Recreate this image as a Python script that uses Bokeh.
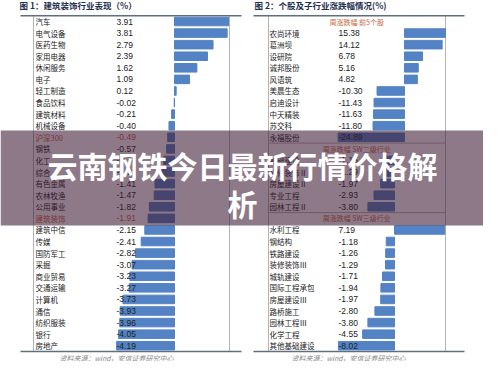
from bokeh.plotting import figure
from bokeh.models import Range1d, ColumnDataSource
from bokeh.core.properties import value
from bokeh.embed import file_html
from bokeh.resources import INLINE

# ---------------- data ----------------
left_title = "图 1：建筑装饰行业表现（%）"
left_names = ["汽车", "电气设备", "医药生物", "家用电器", "休闲服务", "电子", "轻工制造",
              "食品饮料", "建筑材料", "机械设备", "沪深300", "钢铁", "化工", "综合",
              "有色金属", "农林牧渔", "公用事业", "建筑装饰", "建筑中信", "传媒", "国防军工",
              "采掘", "商业贸易", "交通运输", "计算机", "通信", "纺织服装", "银行", "房地产"]
left_values = [3.91, 3.81, 2.79, 2.39, 1.62, 1.09, 0.12, -0.02, -0.21, -0.40, -0.49, -0.57,
               -0.78, -1.02, -1.41, -1.47, -1.82, -1.91, -2.15, -2.41, -2.82, -3.07, -3.23,
               -3.27, -3.73, -3.93, -3.96, -4.05, -4.19]
left_highlight = ["沪深300", "建筑装饰"]

right_title = "图 2：个股及子行业涨跌幅情况(%)"
stock_header = "周涨跌幅  前5个股"
stock_names = ["农尚环境", "葛洲坝", "设研院", "诚邦股份", "风语筑",
               "美晨生态", "启迪设计", "中天精装", "苏交科", "永福股份"]
stock_values = [15.38, 14.12, 6.78, 5.16, 4.82, -10.30, -11.43, -11.63, -11.80, -24.89]
sw2_header = "周涨跌幅  SW二级行业"
sw2_names = ["基础建设", "装修装饰Ⅱ", "房屋建设Ⅱ", "专业工程", "园林工程Ⅱ"]
sw2_values = [-1.15, -1.29, -1.97, -2.93, -3.80]
sw3_header = "周涨跌幅  SW三级行业"
sw3_names = ["水利工程", "钢结构", "铁路建设", "装修装饰Ⅲ", "城轨建设", "国际工程承包",
             "房屋建设Ⅲ", "路桥施工", "园林工程Ⅲ", "化学工程", "其他基础建设"]
sw3_values = [7.19, -1.18, -1.26, -1.29, -1.71, -1.94, -1.97, -2.80, -3.80, -4.55, -8.02]
source_note = "资料来源：wind，安信证券研究中心"
banner_lines = ["云南钢铁今日最新行情价格解", "析"]

# ---------------- layout ----------------
W, H = 483, 361
OFF = 8
ROW0 = 29 - OFF
ROW_H = 11.58
BLUE = "#5383c4"
RED = "#d0603f"
DARK = "#222222"
FONT = value("Noto Sans CJK SC")
NUMF = value("Liberation Sans")


def xr(zero_ref_x, ppu):
    z = zero_ref_x - OFF
    return Range1d(-z / ppu, (W - z) / ppu)


p = figure(width=W, height=H, output_backend="svg", toolbar_location=None,
           x_axis_location=None, y_axis_location=None, min_border=0,
           outline_line_color=None, background_fill_color="white",
           border_fill_color="white",
           x_range=xr(182, 13.82),
           y_range=Range1d((H - ROW0) / ROW_H, -ROW0 / ROW_H))
p.extra_x_ranges = {"stk": xr(412, 2.666), "sw": xr(402, 7.0), "px": Range1d(0, W)}
p.extra_y_ranges = {"py": Range1d(H, 0)}
p.grid.visible = False

# ---------------- frame lines ----------------
vx = [41 - OFF, 237 - OFF, 276 - OFF, 453 - OFF]
p.segment(x0=vx, x1=vx, y0=[-0.5] * 4, y1=[28.5] * 4, x_range_name="px",
          line_color="#b4b4b4", line_width=1)
p.segment(x0=[276 - OFF] * 2, x1=[453 - OFF] * 2, y0=[10.5, 16.5], y1=[10.5, 16.5],
          x_range_name="px", line_color="#b4b4b4", line_width=1)
hx0 = [28 - OFF, 28 - OFF, 261 - OFF, 261 - OFF]
hx1 = [249 - OFF, 249 - OFF, 472 - OFF, 472 - OFF]
p.segment(x0=hx0, x1=hx1, y0=[-0.5, 28.5, -0.5, 28.5], y1=[-0.5, 28.5, -0.5, 28.5],
          x_range_name="px", line_color="#5f6f82", line_width=1.4)

# ---------------- left chart ----------------
left_rows = list(range(len(left_names)))
left_colors = [RED if n in left_highlight else DARK for n in left_names]
p.hbar(y=left_rows, left=0, right=left_values, height=0.74, color=BLUE)
lsrc = ColumnDataSource(dict(
    y=left_rows, name=left_names, val=[f"{v:.2f}" for v in left_values],
    c=left_colors, xn=[43 - OFF] * len(left_rows), xv=[124 - OFF] * len(left_rows)))
p.text(x="xn", y="y", text="name", source=lsrc, x_range_name="px", text_font=FONT,
       text_font_size="7.5px", text_baseline="middle", text_color="c")
p.text(x="xv", y="y", text="val", source=lsrc, x_range_name="px", text_font=NUMF,
       text_font_size="8.5px", text_baseline="middle", text_color="c")

# ---------------- right chart ----------------
stock_rows = list(range(1, 1 + len(stock_names)))
sw2_rows = list(range(12, 12 + len(sw2_names)))
sw3_rows = list(range(18, 18 + len(sw3_names)))
p.hbar(y=stock_rows, left=0, right=stock_values, height=0.74, color=BLUE,
       x_range_name="stk")
p.hbar(y=sw2_rows + sw3_rows, left=0, right=sw2_values + sw3_values, height=0.74,
       color=BLUE, x_range_name="sw")
r_rows = stock_rows + sw2_rows + sw3_rows
r_names = stock_names + sw2_names + sw3_names
r_vals = [f"{v:.2f}" for v in stock_values + sw2_values + sw3_values]
rsrc = ColumnDataSource(dict(y=r_rows, name=r_names, val=r_vals,
                             xn=[277 - OFF] * len(r_rows), xv=[346 - OFF] * len(r_rows)))
p.text(x="xn", y="y", text="name", source=rsrc, x_range_name="px", text_font=FONT,
       text_font_size="7.5px", text_baseline="middle", text_color=DARK)
p.text(x="xv", y="y", text="val", source=rsrc, x_range_name="px", text_font=NUMF,
       text_font_size="8.5px", text_baseline="middle", text_color=DARK)
p.text(x=[365 - OFF] * 3, y=[0, 11, 17], text=[stock_header, sw2_header, sw3_header],
       x_range_name="px", text_font=FONT, text_font_size="7px", text_align="center",
       text_baseline="middle", text_color="#c8683c")

# ---------------- titles & notes ----------------
p.text(x=[27 - OFF, 262 - OFF], y=[12 - OFF] * 2, text=[left_title, right_title],
       x_range_name="px", y_range_name="py", text_font=FONT, text_font_size="8.5px",
       text_font_style="bold", text_baseline="middle", text_color="#1f3050")
p.text(x=[124 - OFF, 356 - OFF], y=[365 - OFF] * 2, text=[source_note] * 2,
       x_range_name="px", y_range_name="py", text_font=FONT, text_font_size="7px",
       text_font_style="italic", text_align="center", text_baseline="middle",
       text_color="#8a8a8a")

# ---------------- banner overlay ----------------
p.quad(left=[0], right=[W], top=[138 - OFF], bottom=[233 - OFF], x_range_name="px",
       y_range_name="py", fill_color="#3a1832", fill_alpha=0.58, line_color=None)
p.text(x=[250 - OFF] * 2, y=[172 - OFF, 210 - OFF], text=banner_lines,
       x_range_name="px", y_range_name="py", text_font=FONT, text_font_size="30px",
       text_font_style="bold", text_align="center", text_baseline="middle",
       text_color="white")

open("out.html", "w").write(file_html(p, INLINE))
